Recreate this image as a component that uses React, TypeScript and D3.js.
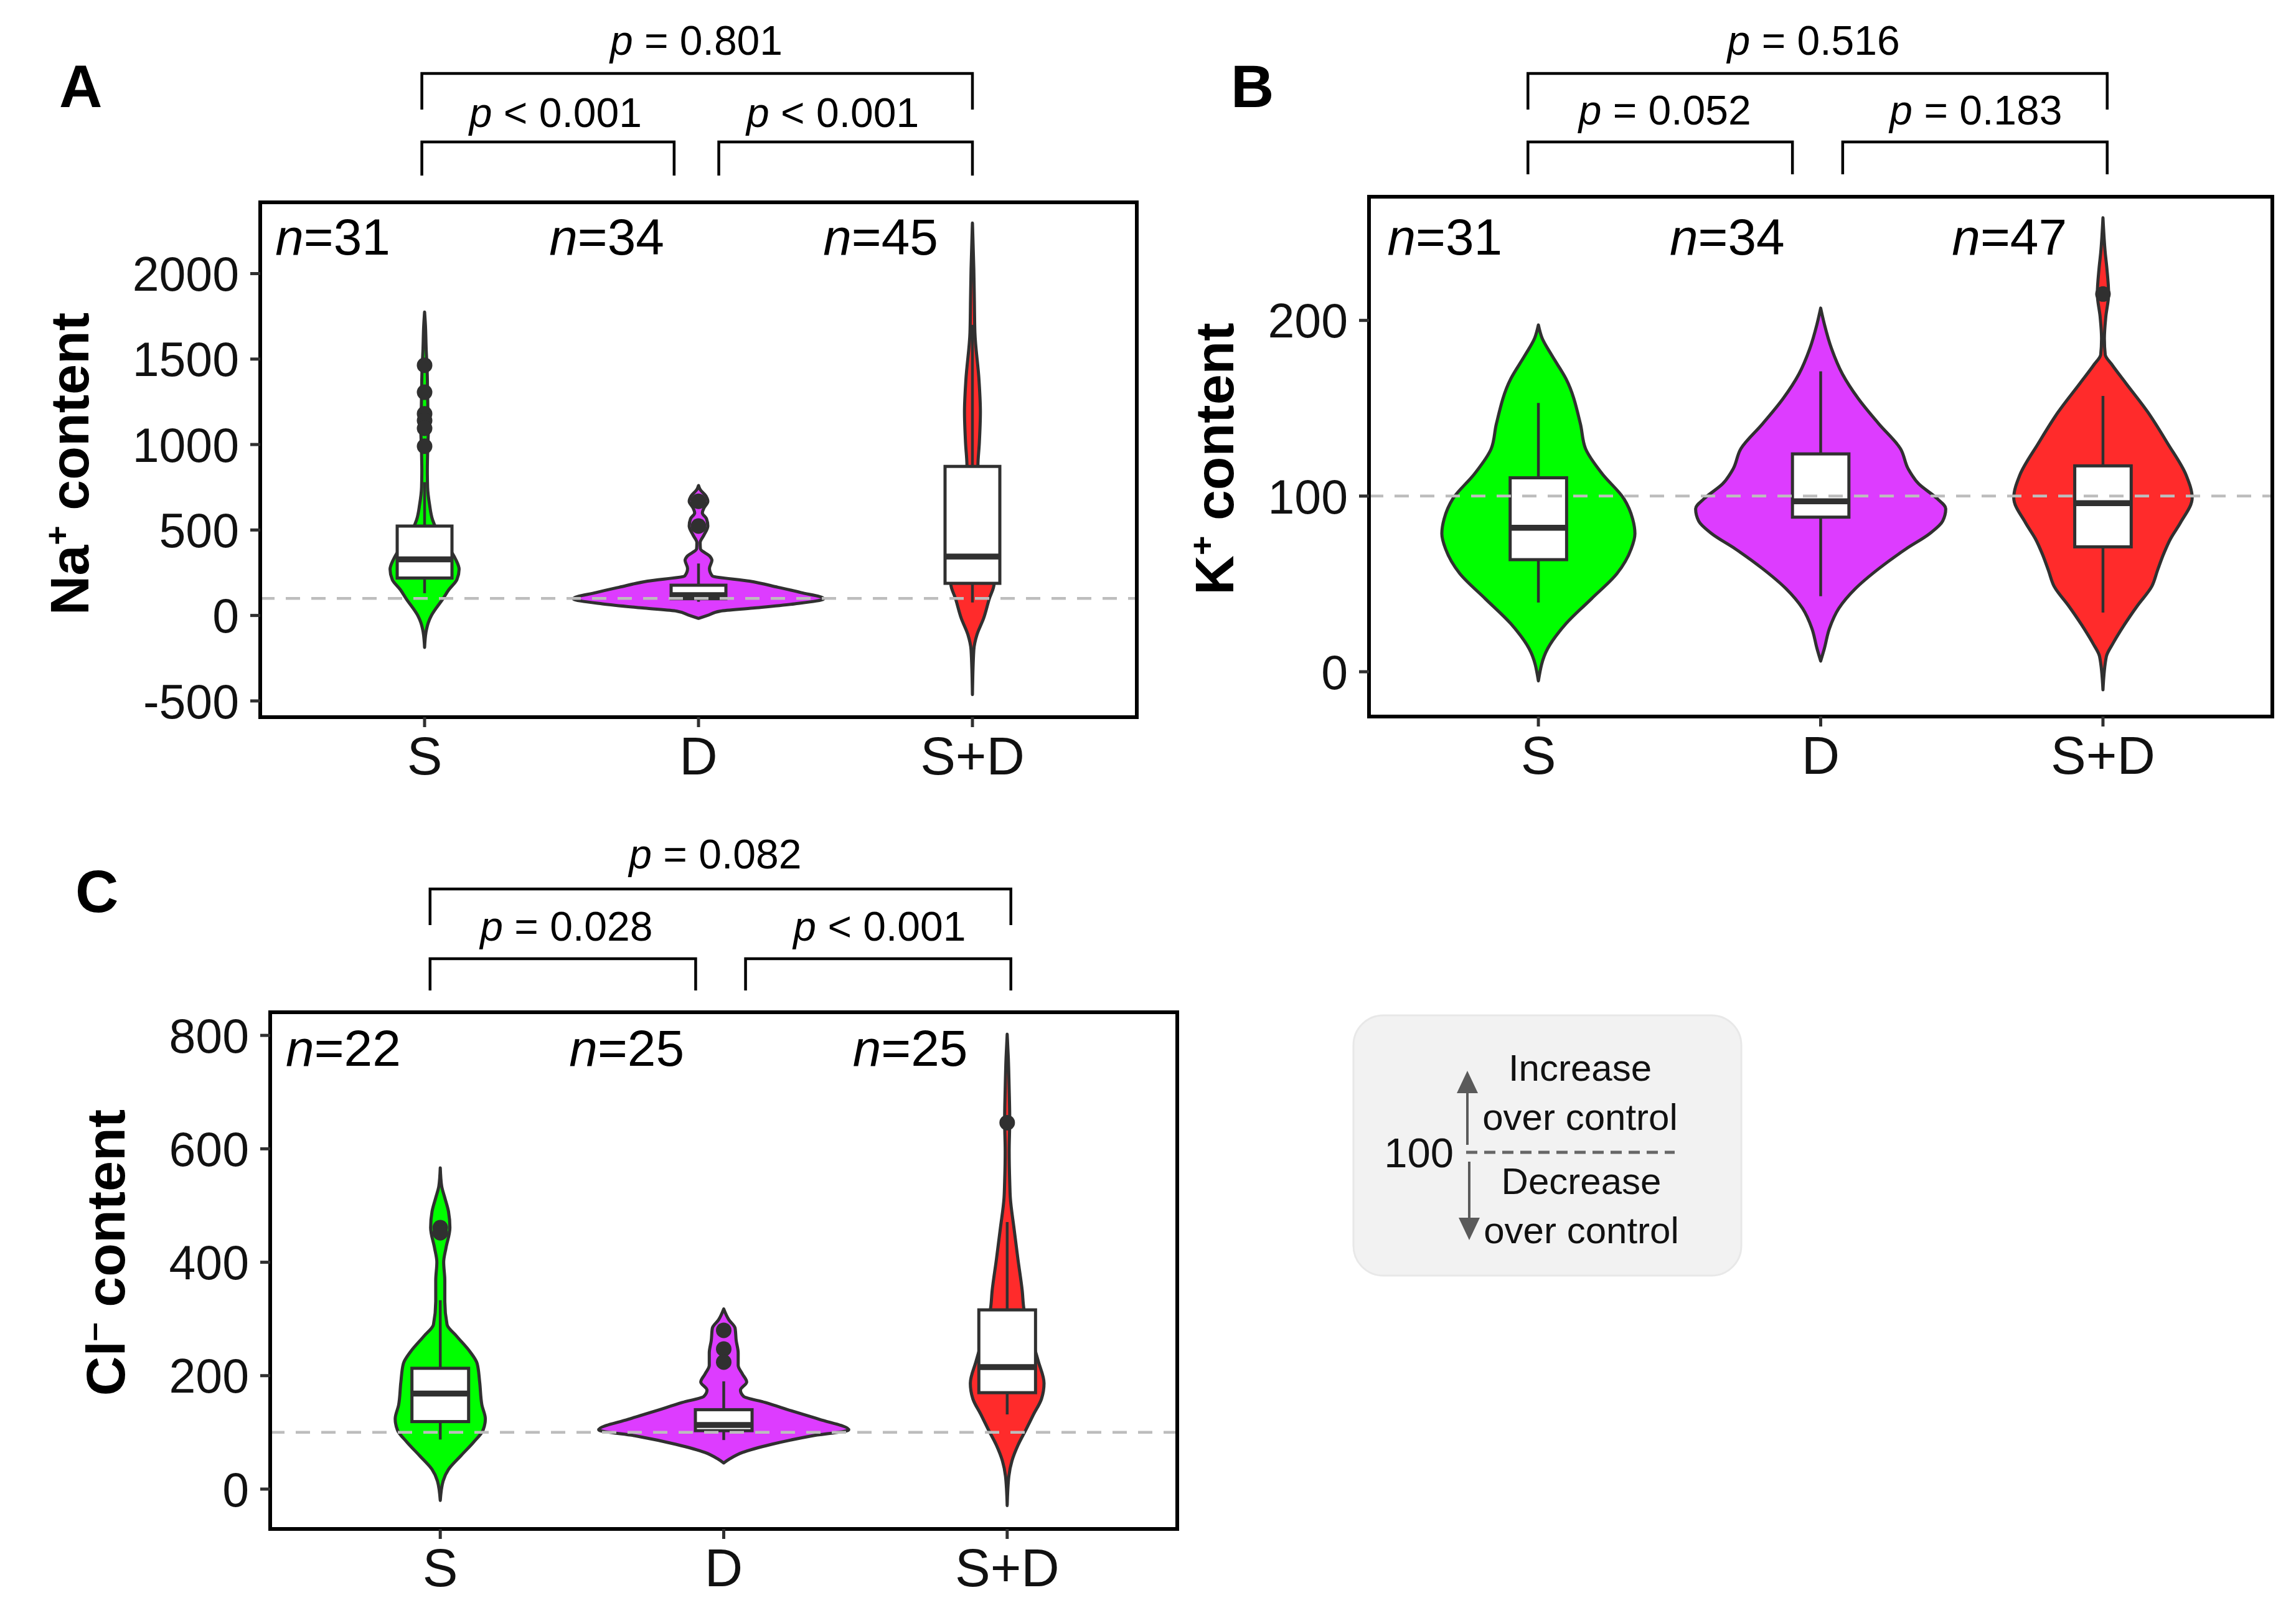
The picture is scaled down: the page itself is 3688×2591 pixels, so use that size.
import React from "react";
import * as d3 from "d3";

const FONT = "'Liberation Sans', Arial, Helvetica, sans-serif";

// ---------- shared ----------
const groups = ["S", "D", "S+D"];
const groupFills = ["#00ff00", "#dd3cff", "#ff2b2b"];
const controlLevel = 100;

// violin profiles: [value, half-width in % of category spacing]
// ---------- Panel A : Na+ ----------
const naTicks = [-500, 0, 500, 1000, 1500, 2000];
const naCounts = [31, 34, 45];
const naViolinS = [[1775,0],[1700,0.3],[1550,0.6],[1450,0.9],[1300,1.1],[1200,1.2],[1100,1.4],[1000,1.2],[850,1.0],[750,1.1],[650,1.8],[560,2.9],[500,4.5],[440,6.8],[380,9.5],[330,11.3],[270,12.6],[210,11.8],[150,8.8],[95,6.6],[40,4.1],[0,2.5],[-40,1.4],[-90,0.6],[-187,0]];
const naViolinD = [[760,0],[737,0.6],[699,2.7],[668,3.4],[626,1.9],[600,1.4],[566,2.9],[523,3.4],[468,1.9],[426,0.6],[390,0.7],[347,4.1],[323,4.9],[275,4.0],[232,5.0],[201,18.6],[165,29.0],[134,37.4],[98,45.7],[68,35.1],[43,19.9],[25,7.9],[1,3.4],[-17,0]];
const naViolinSD = [[2296,0],[2027,0.5],[1841,0.7],[1655,0.9],[1376,2.4],[1191,2.9],[1005,2.5],[876,2.0],[700,3.2],[500,5.0],[345,6.8],[250,7.7],[186,7.9],[95,6.1],[-16,4.1],[-110,1.7],[-202,0.5],[-463,0]];
// [lower whisker, q1, median, q3, upper whisker]
const naBoxes = [[130,219,328,523,780],[80,98,119,177,304],[76,188,345,872,1700]];
const naOutliers = [[1464,1306,1180,1140,1095,990],[668,523],[]];
const naPOps = ["=", "<", "<"];          // top, left, right brackets
const naPVals = ["0.801", "0.001", "0.001"];

// ---------- Panel B : K+ ----------
const kTicks = [0, 100, 200];
const kCounts = [31, 34, 47];
const kViolinS = [[197.4,0],[190,1.3],[180,4.8],[166.7,9.8],[141,14.9],[127,16.7],[112.7,22.6],[98.5,30.3],[87,33.4],[78.6,34.2],[70,32.9],[56,27.9],[41.7,18.9],[27.4,9.8],[13.2,3.3],[-5.2,0]];
const kViolinD = [[207,0],[197.9,1.3],[183.7,3.9],[169.5,7.7],[155.3,13.4],[141.1,20.6],[126.9,28.3],[115.5,31.0],[107,34.7],[98.5,41.3],[92.8,44.3],[85.7,43.2],[78.6,38.6],[70,30.3],[58.7,20.6],[47.3,12.3],[36,6.4],[24.6,3.1],[13.2,1.3],[6.1,0]];
const kViolinSD = [[258.4,0],[238.5,0.8],[229.4,1.4],[215,2.0],[202,1.0],[189.7,0.5],[180.5,0.8],[175,3.1],[164.3,8.1],[148,15.8],[130,22.9],[111.8,29.5],[99,31.6],[84.7,27.4],[75.6,23.9],[66.7,21.4],[57.6,19.3],[48.6,17.3],[37.6,12.2],[26.8,7.6],[16,3.5],[8.7,1.2],[-10.3,0]];
const kBoxes = [[39.4,63.8,82,110.4,153],[43,88,97,124,171],[33.7,71.1,96,117.2,157]];
const kOutliers = [[],[],[215]];
const kPOps = ["=", "=", "="];
const kPVals = ["0.516", "0.052", "0.183"];

// ---------- Panel C : Cl- ----------
const clTicks = [0, 200, 400, 600, 800];
const clCounts = [22, 25, 25];
const clViolinS = [[566.5,0],[534,0.5],[513.7,1.6],[489.5,2.9],[461,3.4],[424.8,2.0],[400,1.2],[367.7,1.6],[331,1.6],[290,2.4],[270,5.7],[241.5,10.6],[221.5,13.0],[188.8,13.9],[148,14.7],[124,15.9],[104,15.1],[83,11.8],[59,7.3],[34.6,2.9],[14.3,1.0],[-20,0]];
const clViolinD = [[317.6,0],[298.6,1.8],[284,4.0],[262,4.4],[240,5.1],[218,5.1],[203,6.6],[188.8,8.1],[174.5,5.9],[163.5,7.0],[152.6,14.7],[137.5,24.2],[123,33.7],[104.6,44.1],[93.6,30.8],[79,16.9],[64.5,6.6],[53.5,2.2],[46,0]];
const clViolinSD = [[802,0],[760,0.4],[705,0.7],[651,0.9],[596,0.7],[541,0.9],[514,1.1],[460,2.4],[405,3.8],[350,5.3],[317.6,5.9],[270,8.4],[225,11.0],[186.6,13.0],[159,12.1],[131.7,9.3],[104.5,6.6],[77.3,3.8],[50,1.7],[23,0.6],[-29,0]];
const clBoxes = [[87.4,119,168.5,213,333],[86.5,103,113,140,190],[131.7,170,215,316,471]];
const clOutliers = [[461,452],[280,247,224],[646]];
const clPOps = ["=", "=", "<"];
const clPVals = ["0.082", "0.028", "0.001"];

// legend
const legendLevel = "100";
const legendUp = ["Increase", "over control"];
const legendDown = ["Decrease", "over control"];

// ---------- layout ----------
const panels = [
  {
    key: "A", letter: "A", letterX: 95, letterY: 172,
    left: 418, right: 1826, top: 325, bottom: 1152, yDomain: [-595, 2417],
    ticks: naTicks, counts: naCounts,
    violins: [naViolinS, naViolinD, naViolinSD], boxes: naBoxes, outliers: naOutliers,
    title: ["Na", "+", " content"], titleX: 142, titleY: 745,
    nY: 409, nOffset: 0.545,
    brTopY: 118, brTopEnd: 176, brLowY: 228, brLowEnd: 282,
    brSpans: [[0.99, 3.0], [0.99, 1.911], [2.074, 3.0]],
    labelPos: [1.992, 1.478, 2.49], labelY: [88, 204],
    pOps: naPOps, pVals: naPVals,
  },
  {
    key: "B", letter: "B", letterX: 1977, letterY: 172,
    left: 2199, right: 3650, top: 316, bottom: 1151, yDomain: [-25.5, 270.4],
    ticks: kTicks, counts: kCounts,
    violins: [kViolinS, kViolinD, kViolinSD], boxes: kBoxes, outliers: kOutliers,
    title: ["K", "+", " content"], titleX: 1981, titleY: 737,
    nY: 409, nOffset: 0.535,
    brTopY: 118, brTopEnd: 176, brLowY: 228, brLowEnd: 280,
    brSpans: [[0.963, 3.015], [0.963, 1.90], [2.078, 3.015]],
    labelPos: [1.975, 1.448, 2.55], labelY: [88, 200],
    pOps: kPOps, pVals: kPVals,
  },
  {
    key: "C", letter: "C", letterX: 121, letterY: 1465,
    left: 434, right: 1891, top: 1626, bottom: 2456, yDomain: [-70.3, 840.8],
    ticks: clTicks, counts: clCounts,
    violins: [clViolinS, clViolinD, clViolinSD], boxes: clBoxes, outliers: clOutliers,
    title: ["Cl", "\u2013", " content"], titleX: 200, titleY: 2012,
    nY: 1712, nOffset: 0.545,
    brTopY: 1428, brTopEnd: 1486, brLowY: 1540, brLowEnd: 1591,
    brSpans: [[0.964, 3.013], [0.964, 1.901], [2.077, 3.013]],
    labelPos: [1.97, 1.445, 2.55], labelY: [1395, 1511],
    pOps: clPOps, pVals: clPVals,
  },
];

const OUTLINE = "#303030";

function Panel({ p }: { p: any }) {
  const x = d3.scalePoint<string>().domain(groups).range([p.left, p.right]).padding(0.6);
  const step = x.step();
  const y = d3.scaleLinear().domain(p.yDomain).range([p.bottom, p.top]);
  const wScale = d3.scaleLinear().domain([0, 100]).range([0, step]);
  const pos = d3.scaleLinear().domain([1, 3]).range([x(groups[0]) as number, x(groups[2]) as number]);
  const boxHalf = step * 0.1;
  const tickLen = 16;

  return (
    <g>
      {/* panel letter */}
      <text x={p.letterX} y={p.letterY} fontFamily={FONT} fontWeight={700} fontSize={96} fill="#000">{p.letter}</text>

      {/* y title */}
      <text transform={`translate(${p.titleX},${p.titleY}) rotate(-90)`} textAnchor="middle"
        fontFamily={FONT} fontWeight={700} fontSize={88} fill="#000">
        {p.title[0]}
        <tspan dy={-32} fontSize={54}>{p.title[1]}</tspan>
        <tspan dy={32}>{p.title[2]}</tspan>
      </text>

      {/* violins + boxes */}
      {groups.map((g, i) => {
        const cx = x(g) as number;
        const area = d3.area<number[]>()
          .curve(d3.curveMonotoneY)
          .y((d) => y(d[0]))
          .x0((d) => cx - wScale(d[1]))
          .x1((d) => cx + wScale(d[1]));
        const [lo, q1, med, q3, hi] = p.boxes[i];
        return (
          <g key={g}>
            <path d={area(p.violins[i]) || ""} fill={groupFills[i]} stroke={OUTLINE} strokeWidth={5} strokeLinejoin="round" />
            <line x1={cx} x2={cx} y1={y(q3)} y2={y(hi)} stroke={OUTLINE} strokeWidth={4.5} />
            <line x1={cx} x2={cx} y1={y(q1)} y2={y(lo)} stroke={OUTLINE} strokeWidth={4.5} />
            <rect x={cx - boxHalf} y={y(q3)} width={boxHalf * 2} height={y(q1) - y(q3)} fill="#ffffff" stroke={OUTLINE} strokeWidth={5} />
            <line x1={cx - boxHalf} x2={cx + boxHalf} y1={y(med)} y2={y(med)} stroke={OUTLINE} strokeWidth={9.5} />
            {p.outliers[i].map((v: number, j: number) => (
              <circle key={j} cx={cx} cy={y(v)} r={12.5} fill={OUTLINE} />
            ))}
          </g>
        );
      })}

      {/* control reference line */}
      <line x1={p.left} x2={p.right} y1={y(controlLevel)} y2={y(controlLevel)} stroke="#bdbdbd" strokeWidth={4.5} strokeDasharray="23,18" />

      {/* n labels */}
      {groups.map((g, i) => (
        <text key={"n" + g} x={(x(g) as number) - p.nOffset * step} y={p.nY} fontFamily={FONT} fontSize={82} fill="#000">
          <tspan fontStyle="italic">n</tspan>={p.counts[i]}
        </text>
      ))}

      {/* border */}
      <rect x={p.left} y={p.top} width={p.right - p.left} height={p.bottom - p.top} fill="none" stroke="#000" strokeWidth={6} />

      {/* y axis ticks */}
      {p.ticks.map((t: number) => (
        <g key={"yt" + t}>
          <line x1={p.left - tickLen} x2={p.left} y1={y(t)} y2={y(t)} stroke={OUTLINE} strokeWidth={5} />
          <text x={p.left - tickLen - 18} y={y(t)} dy="0.36em" textAnchor="end" fontFamily={FONT} fontSize={77} fill="#111">{t}</text>
        </g>
      ))}

      {/* x axis ticks */}
      {groups.map((g) => (
        <g key={"xt" + g}>
          <line x1={x(g) as number} x2={x(g) as number} y1={p.bottom} y2={p.bottom + tickLen} stroke={OUTLINE} strokeWidth={5} />
          <text x={x(g) as number} y={p.bottom + 92} textAnchor="middle" fontFamily={FONT} fontSize={85} fill="#111">{g}</text>
        </g>
      ))}

      {/* significance brackets */}
      {p.brSpans.map((s: number[], k: number) => {
        const yb = k === 0 ? p.brTopY : p.brLowY;
        const ye = k === 0 ? p.brTopEnd : p.brLowEnd;
        const x1 = pos(s[0]);
        const x2 = pos(s[1]);
        return (
          <path key={"br" + k} d={`M${x1},${ye}V${yb}H${x2}V${ye}`} fill="none" stroke="#000" strokeWidth={4.5} />
        );
      })}
      {p.labelPos.map((lp: number, k: number) => (
        <text key={"pl" + k} x={pos(lp)} y={k === 0 ? p.labelY[0] : p.labelY[1]} textAnchor="middle"
          fontFamily={FONT} fontSize={66} fill="#000" xmlSpace="preserve">
          <tspan fontStyle="italic">p</tspan>{` ${p.pOps[k]} ${p.pVals[k]}`}
        </text>
      ))}
    </g>
  );
}

function Legend() {
  return (
    <g fontFamily={FONT}>
      <rect x={2174} y={1631} width={623} height={418} rx={48} fill="#f2f2f2" stroke="#e8e8e8" strokeWidth={3} />
      <text x={2335} y={1875} textAnchor="end" fontSize={67} fill="#111">{legendLevel}</text>
      <line x1={2355} x2={2690} y1={1851} y2={1851} stroke="#666" strokeWidth={5} strokeDasharray="18,11" />
      <line x1={2357} x2={2357} y1={1839} y2={1750} stroke="#5a5a5a" strokeWidth={4} />
      <polygon points="2357,1720 2340,1756 2374,1756" fill="#5a5a5a" />
      <line x1={2360} x2={2360} y1={1866} y2={1960} stroke="#5a5a5a" strokeWidth={4} />
      <polygon points="2360,1992 2343,1956 2377,1956" fill="#5a5a5a" />
      <text x={2538} y={1736} textAnchor="middle" fontSize={60} fill="#111">{legendUp[0]}</text>
      <text x={2538} y={1815} textAnchor="middle" fontSize={60} fill="#111">{legendUp[1]}</text>
      <text x={2540} y={1918} textAnchor="middle" fontSize={60} fill="#111">{legendDown[0]}</text>
      <text x={2540} y={1997} textAnchor="middle" fontSize={60} fill="#111">{legendDown[1]}</text>
    </g>
  );
}

export default function App() {
  return (
    <>
      <style>{"html,body{margin:0;padding:0;background:#fff;}"}</style>
      <svg width={3688} height={2591} viewBox="0 0 3688 2591" style={{ display: "block" }}>
        <rect x={0} y={0} width={3688} height={2591} fill="#ffffff" />
        {panels.map((p) => (
          <Panel key={p.key} p={p} />
        ))}
        <Legend />
      </svg>
    </>
  );
}
